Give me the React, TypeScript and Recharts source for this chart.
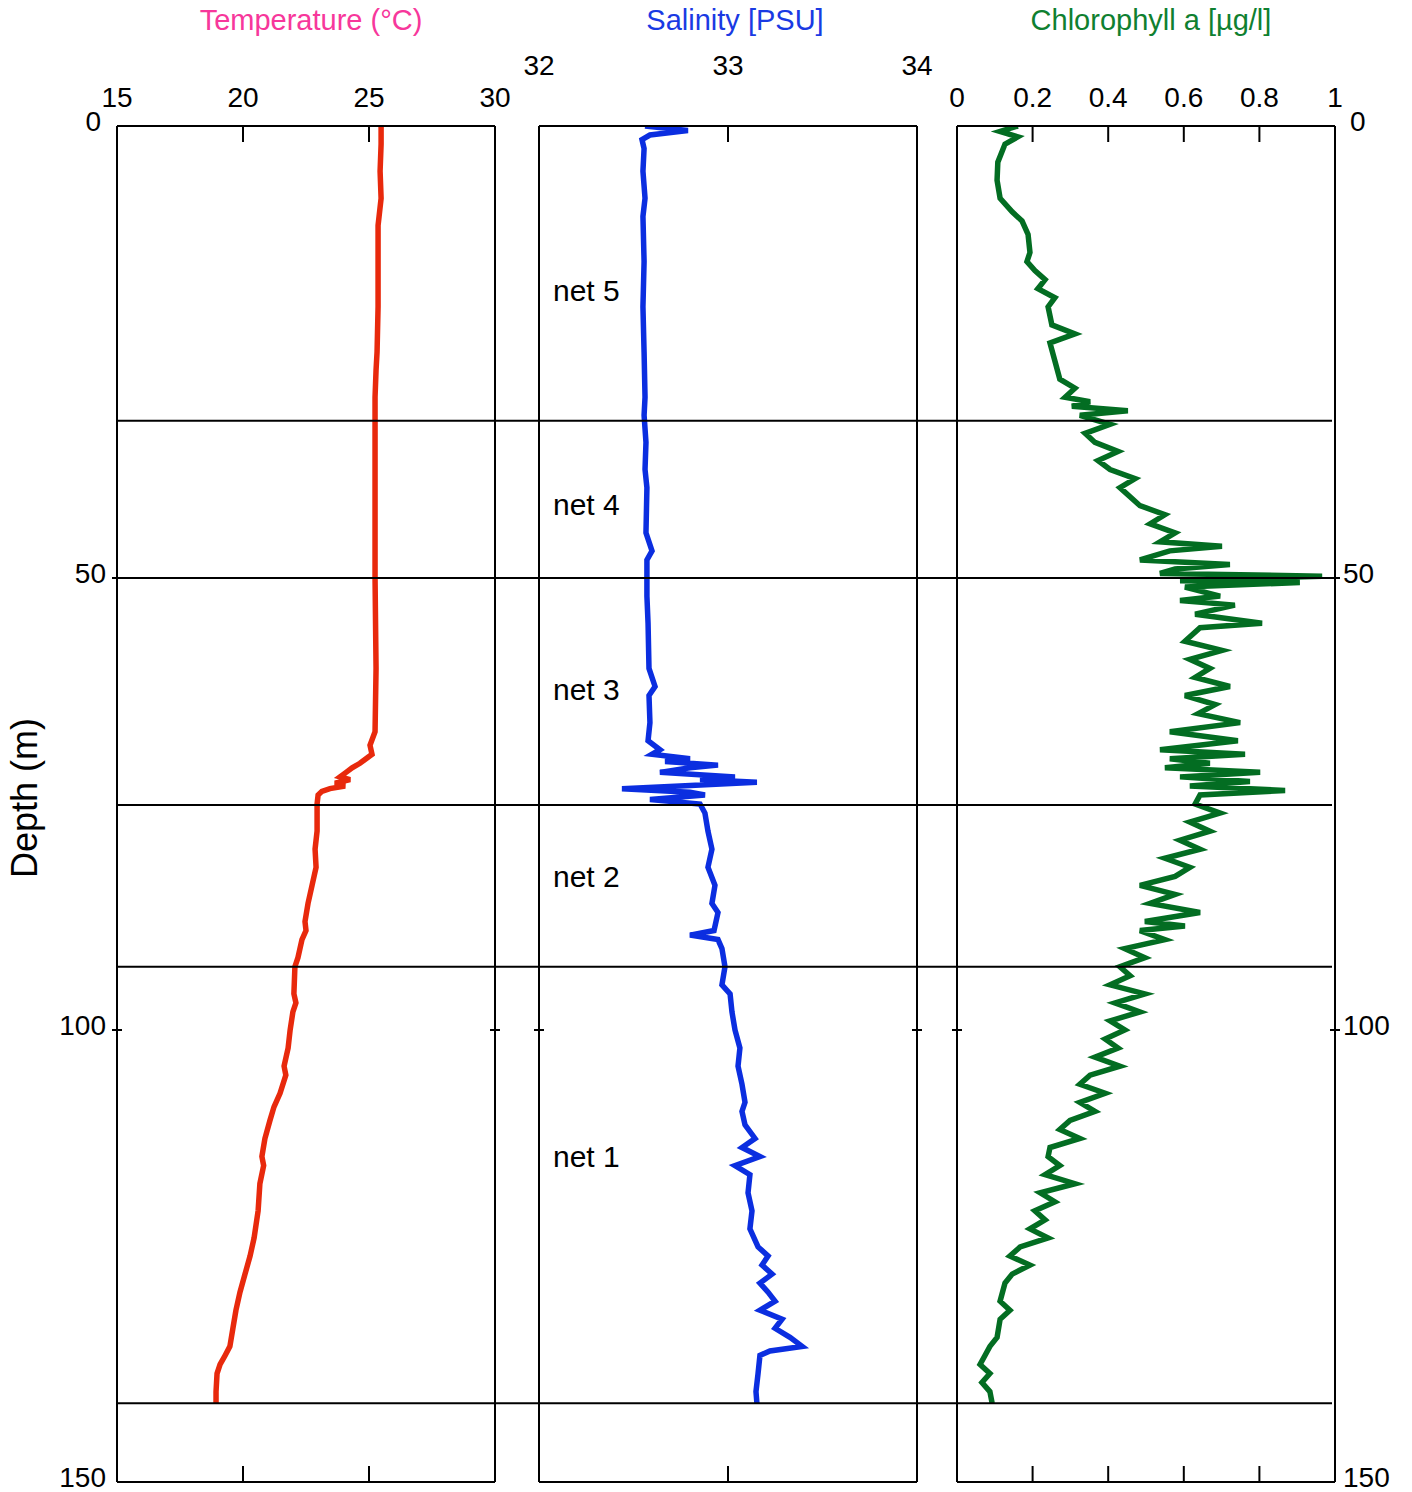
import React from 'react';
import { LineChart, Line, XAxis, YAxis, ReferenceLine, ReferenceDot } from 'recharts';

const W = 1412;
const H = 1492;
const FONT = '"Liberation Sans", Arial, Helvetica, sans-serif';

const DEPTH_TICKS = [0, 50, 100, 150];
const TEMP_TICKS = [15, 20, 25, 30];
const SAL_TICKS = [32, 33, 34];
const CHL_TICKS = [0, 0.2, 0.4, 0.6, 0.8, 1];

// depth (m) of the horizontal net boundaries
const NET_BOUNDS = [32.6, 50, 75.1, 93, 141.3];
const NET_LABELS = ['net 5', 'net 4', 'net 3', 'net 2', 'net 1'];
const NET_LABEL_DEPTHS = [18.3, 41.9, 62.4, 83.1, 114];

// [depth m, temperature °C]
const TEMPERATURE: [number, number][] = [
  [0, 25.48], [2, 25.48], [5, 25.44], [8, 25.48], [10, 25.4], [11, 25.36], [20, 25.36],
  [25, 25.32], [27, 25.28], [30, 25.24], [40, 25.24], [50, 25.24], [60, 25.28], [67, 25.24],
  [68.5, 25.04], [69.5, 25.12], [70.5, 24.64], [71, 24.33], [71.5, 24.09], [72, 23.85],
  [72.3, 24.25], [72.7, 23.65], [73, 24.05], [73.3, 23.45], [73.6, 23.13], [74, 22.98],
  [75, 22.94], [78, 22.94], [80, 22.86], [82, 22.9], [84, 22.74], [86, 22.58], [88, 22.46],
  [89, 22.5], [90, 22.34], [92, 22.18], [93, 22.06], [96, 22.02], [97, 22.1], [98, 21.98],
  [100, 21.87], [102, 21.79], [104, 21.63], [105, 21.7], [107, 21.47], [108.5, 21.23],
  [110, 21.07], [112, 20.87], [114, 20.75], [115, 20.82], [117, 20.67], [120, 20.6],
  [123, 20.44], [125, 20.28], [127, 20.08], [129, 19.88], [131, 19.72], [133, 19.6],
  [135, 19.48], [136, 19.29], [137, 19.09], [138, 18.97], [140, 18.93], [141.3, 18.93],
];

// [depth m, salinity PSU]
const SALINITY: [number, number][] = [
  [0, 32.561], [0.5, 32.788], [1, 32.587], [1.5, 32.545], [2.5, 32.556], [5, 32.55],
  [8, 32.561], [10, 32.55], [15, 32.556], [20, 32.55], [25, 32.556], [30, 32.561],
  [32, 32.556], [35, 32.566], [38, 32.561], [40, 32.571], [45, 32.566], [47, 32.598],
  [48, 32.571], [52, 32.571], [55, 32.577], [60, 32.582], [62, 32.614], [63, 32.582],
  [66, 32.587], [68, 32.577], [69, 32.64], [69.5, 32.598], [70, 32.799], [70.3, 32.667],
  [70.7, 32.947], [71, 32.799], [71.5, 32.64], [72, 33.037], [72.3, 32.852], [72.6, 33.153],
  [73, 32.746], [73.3, 32.439], [73.7, 32.799], [74, 32.878], [74.5, 32.587], [75, 32.852],
  [76, 32.878], [78, 32.894], [80, 32.915], [82, 32.894], [84, 32.931], [86, 32.915],
  [87, 32.947], [89, 32.926], [89.5, 32.799], [90, 32.947], [91, 32.968], [93, 32.984],
  [95, 32.968], [96, 33.011], [98, 33.021], [100, 33.037], [102, 33.063], [104, 33.053],
  [106, 33.074], [108, 33.09], [109, 33.074], [110.5, 33.09], [112, 33.143], [113, 33.074],
  [114, 33.169], [115, 33.037], [116, 33.116], [118, 33.106], [120, 33.127], [122, 33.116],
  [124, 33.159], [125, 33.212], [126, 33.18], [127, 33.233], [128, 33.169], [129, 33.212],
  [130, 33.249], [131, 33.169], [132, 33.286], [133, 33.249], [134, 33.328], [135, 33.392],
  [135.5, 33.222], [136, 33.169], [138, 33.159], [140, 33.148], [141.3, 33.153],
];

// [depth m, chlorophyll a µg/l]
const CHLOROPHYLL: [number, number][] = [
  [0, 0.161], [0.6, 0.114], [1.2, 0.161], [2, 0.127], [4, 0.108], [6, 0.106], [8, 0.114],
  [9.5, 0.146], [10.5, 0.172], [12, 0.188], [14, 0.193], [15, 0.185], [16, 0.206],
  [17, 0.233], [18, 0.214], [19, 0.259], [20, 0.241], [22, 0.251], [23, 0.312], [24, 0.246],
  [26, 0.259], [28, 0.272], [29, 0.312], [30, 0.286], [30.5, 0.352], [31, 0.304],
  [31.5, 0.452], [32, 0.325], [33, 0.405], [34, 0.339], [35, 0.365], [36, 0.426],
  [37, 0.373], [38, 0.405], [39, 0.471], [40, 0.431], [42, 0.484], [43, 0.55], [44, 0.511],
  [45, 0.577], [46, 0.537], [46.5, 0.701], [47, 0.563], [48, 0.484], [48.5, 0.722],
  [49, 0.577], [49.5, 0.537], [49.8, 0.966], [50.3, 0.59], [50.5, 0.907], [51, 0.603],
  [52, 0.696], [52.5, 0.59], [53, 0.735], [54, 0.63], [55, 0.807], [55.5, 0.643],
  [57, 0.603], [58, 0.701], [59, 0.616], [60, 0.669], [61, 0.63], [62, 0.722], [63, 0.603],
  [64, 0.683], [65, 0.638], [66, 0.749], [67, 0.563], [68, 0.743], [69, 0.537], [69.5, 0.762],
  [70, 0.563], [70.5, 0.669], [71, 0.55], [71.5, 0.802], [72, 0.59], [72.5, 0.775],
  [73, 0.616], [73.5, 0.868], [74, 0.643], [75, 0.63], [76, 0.696], [77, 0.616], [78, 0.669],
  [79, 0.59], [80, 0.643], [81, 0.55], [82, 0.616], [83, 0.577], [84, 0.484], [85, 0.577],
  [86, 0.511], [87, 0.643], [88, 0.497], [88.5, 0.603], [89, 0.484], [90, 0.55], [91, 0.444],
  [92, 0.497], [93, 0.431], [94, 0.458], [95, 0.405], [96, 0.497], [97, 0.418], [98, 0.484],
  [99, 0.405], [100, 0.444], [101, 0.392], [102, 0.426], [103, 0.365], [104, 0.431],
  [105, 0.352], [106, 0.325], [107, 0.392], [108, 0.325], [109, 0.365], [110, 0.299],
  [111, 0.272], [112, 0.325], [113, 0.246], [114, 0.241], [115, 0.272], [116, 0.233],
  [117, 0.312], [118, 0.22], [119, 0.259], [120, 0.206], [121, 0.233], [122, 0.193],
  [123, 0.241], [124, 0.167], [125, 0.14], [126, 0.193], [127, 0.146], [128, 0.127],
  [130, 0.114], [131, 0.14], [132, 0.114], [134, 0.106], [135, 0.087], [136, 0.074],
  [137, 0.061], [138, 0.087], [139, 0.066], [140, 0.087], [141.3, 0.093],
];

const toRows = (pts: [number, number][]) => pts.map(([depth, v]) => ({ depth, v }));

const AXIS = { stroke: '#000', strokeWidth: 2 };

const topTick = (labelDy: number) => (props: any) => {
  const { x, y, payload } = props;
  return (
    <g>
      <line x1={x} y1={y} x2={x} y2={y + 16} stroke="#000" strokeWidth={2} />
      <text x={x} y={y - labelDy} textAnchor="middle" fontSize={28} fontFamily={FONT} fill="#000">
        {String(payload.value)}
      </text>
    </g>
  );
};

const bottomTick = (props: any) => {
  const { x, y } = props;
  return <line x1={x} y1={y} x2={x} y2={y - 16} stroke="#000" strokeWidth={2} />;
};

const sideTick = (side: 'left' | 'right', showLabel: boolean) => (props: any) => {
  const { x, y, payload } = props;
  const v = payload.value;
  const inner = v === 50 || v === 100;
  let tx = side === 'left' ? x - 11 : x + 8;
  if (v === 0) tx += side === 'left' ? -5 : 7;
  return (
    <g>
      {inner && <line x1={x - 5} y1={y} x2={x + 5} y2={y} stroke="#000" strokeWidth={2} />}
      {showLabel && (
        <text x={tx} y={y + 5} textAnchor={side === 'left' ? 'end' : 'start'} fontSize={28} fontFamily={FONT} fill="#000">
          {String(v)}
        </text>
      )}
    </g>
  );
};

const netLabel = (text: string) => (props: any) => (
  <text x={props.cx} y={props.cy + 10} fontSize={30} fontFamily={FONT} fill="#000">{text}</text>
);

interface PanelProps {
  rows: { depth: number; v: number }[];
  domain: [number, number];
  ticks: number[];
  left: number;
  right: number;
  color: string;
  labelDy: number;
  leftLabels?: boolean;
  rightLabels?: boolean;
  children?: React.ReactNode;
}

// axes get a 1px box (a zero-size axis is not drawn); margins make up for it
function Panel({ rows, domain, ticks, left, right, color, labelDy, leftLabels, rightLabels, children }: PanelProps) {
  const inner = ticks.slice(1, -1);
  return (
    <div style={{ position: 'absolute', left: 0, top: 0 }}>
      <LineChart
        width={W}
        height={H}
        data={rows}
        layout="vertical"
        margin={{ top: 125, bottom: 9, left: left - 1, right: W - right - 1 }}
      >
        <XAxis
          xAxisId="top"
          type="number"
          orientation="top"
          dataKey="v"
          domain={domain}
          ticks={ticks}
          allowDataOverflow
          height={1}
          tickSize={0}
          tickMargin={0}
          axisLine={AXIS}
          tickLine={false}
          tick={topTick(labelDy)}
          interval={0}
        />
        <XAxis
          xAxisId="bot"
          type="number"
          orientation="bottom"
          domain={domain}
          ticks={inner}
          allowDataOverflow
          height={1}
          tickSize={0}
          tickMargin={0}
          axisLine={AXIS}
          tickLine={false}
          tick={bottomTick}
          interval={0}
        />
        <YAxis
          yAxisId="l"
          type="number"
          dataKey="depth"
          domain={[0, 150]}
          ticks={DEPTH_TICKS}
          allowDataOverflow
          width={1}
          tickSize={0}
          tickMargin={0}
          axisLine={AXIS}
          tickLine={false}
          tick={sideTick('left', !!leftLabels)}
          interval={0}
        />
        <YAxis
          yAxisId="r"
          orientation="right"
          type="number"
          dataKey="depth"
          domain={[0, 150]}
          ticks={DEPTH_TICKS}
          allowDataOverflow
          width={1}
          tickSize={0}
          tickMargin={0}
          axisLine={AXIS}
          tickLine={false}
          tick={sideTick('right', !!rightLabels)}
          interval={0}
        />
        <Line
          xAxisId="top"
          yAxisId="l"
          dataKey="v"
          stroke={color}
          strokeWidth={5.5}
          dot={false}
          isAnimationActive={false}
        />
        {children}
      </LineChart>
    </div>
  );
}

export default function App() {
  const boundRows = NET_BOUNDS.map((d) => ({ d, x: 0 }));
  return (
    <div style={{ position: 'absolute', left: 0, top: 0, width: W, height: H, background: '#fff' }}>
      <svg width={W} height={H} style={{ position: 'absolute', left: 0, top: 0 }}>
        <text x={311} y={30} textAnchor="middle" fontSize={29} fontFamily={FONT} fill="#f7379b">Temperature (°C)</text>
        <text x={735} y={30} textAnchor="middle" fontSize={29} fontFamily={FONT} fill="#1a3ae3">Salinity [PSU]</text>
        <text x={1151} y={30} textAnchor="middle" fontSize={29} fontFamily={FONT} fill="#0f8030">Chlorophyll a [µg/l]</text>
        <text
          x={24}
          y={798}
          transform="rotate(-90 24 798)"
          textAnchor="middle"
          dominantBaseline="central"
          fontSize={36}
          fontFamily={FONT}
          fill="#000"
        >
          Depth (m)
        </text>
      </svg>
      <Panel rows={toRows(TEMPERATURE)} domain={[15, 30]} ticks={TEMP_TICKS} left={117} right={495} color="#e8290c" labelDy={19} leftLabels />
      <Panel rows={toRows(SALINITY)} domain={[32, 34]} ticks={SAL_TICKS} left={539} right={917} color="#0b2ee0" labelDy={51}>
        {NET_LABELS.map((t, i) => (
          <ReferenceDot
            key={t}
            xAxisId="top"
            yAxisId="l"
            x={32.074}
            y={NET_LABEL_DEPTHS[i]}
            r={1}
            ifOverflow="visible"
            shape={netLabel(t)}
          />
        ))}
      </Panel>
      <Panel rows={toRows(CHLOROPHYLL)} domain={[0, 1]} ticks={CHL_TICKS} left={957} right={1335} color="#036d22" labelDy={19} rightLabels />
      <div style={{ position: 'absolute', left: 0, top: 0 }}>
        <LineChart width={W} height={H} data={boundRows} margin={{ top: 126, bottom: 10, left: 117, right: W - 1332 }}>
          <XAxis type="number" dataKey="x" domain={[0, 1]} hide />
          <YAxis type="number" dataKey="d" domain={[0, 150]} reversed hide />
          {NET_BOUNDS.map((d) => (
            <ReferenceLine key={d} y={d} stroke="#000" strokeWidth={2} />
          ))}
        </LineChart>
      </div>
    </div>
  );
}
